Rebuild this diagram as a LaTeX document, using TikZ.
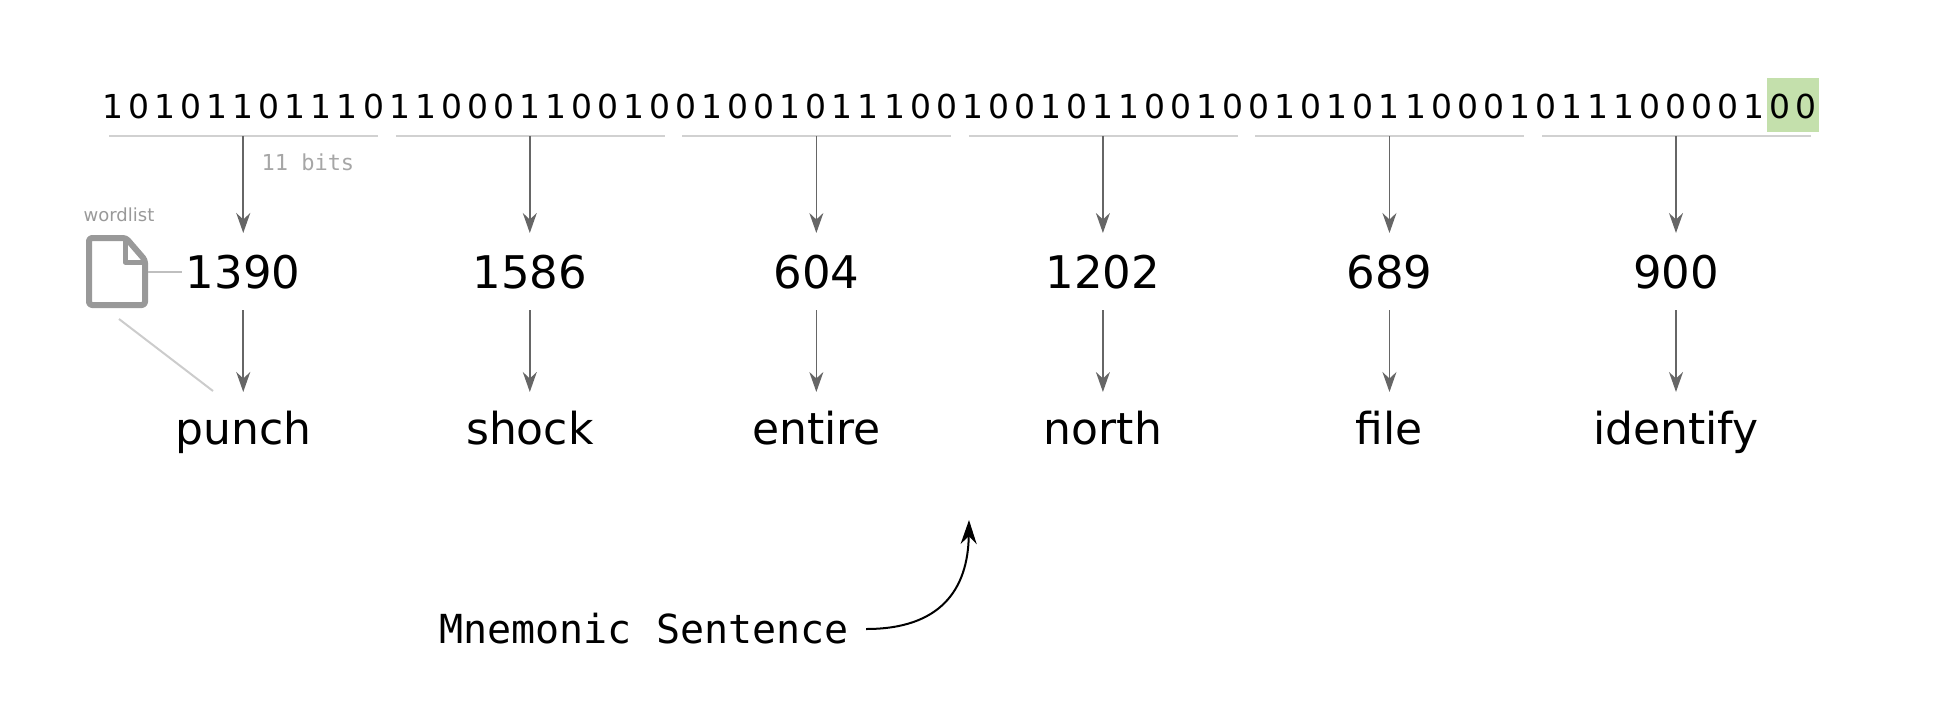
\documentclass[tikz,border=0pt]{standalone}
\usepackage{fontspec}
\setmainfont{DejaVu Sans}
\newfontfamily\monofont{DejaVu Sans Mono}
\usetikzlibrary{arrows.meta,positioning}
\definecolor{hilite}{HTML}{C4E0AC}
\tikzset{
  bit/.style={font=\fontsize{33}{33}\selectfont, inner sep=0pt, anchor=center},
  num/.style={font=\fontsize{45}{45}\selectfont, inner sep=4pt, anchor=base},
  word/.style={font=\fontsize{44}{44}\selectfont, inner sep=4pt, anchor=base},
  flow/.style={draw=black!60, line width=1.6pt, -{Stealth[length=20pt,width=14pt]}},
  brace/.style={draw=black!18, line width=2.5pt},
}
\begin{document}
\begin{tikzpicture}[x=1pt,y=-1pt]
  \useasboundingbox (0,0) rectangle (1960,726);
  %%%%% BITS %%%%%
  \fill[hilite] (1767,78) rectangle (1819,132);
  \foreach \b [count=\i] in {1,0,1,0,1,1,0,1,1,1,0, 1,1,0,0,0,1,1,0,0,1,0,
    0,1,0,0,1,0,1,1,1,0,0, 1,0,0,1,0,1,1,0,0,1,0, 0,1,0,1,0,1,1,0,0,0,1,
    0,1,1,1,0,0,0,0,1,0,0}
    \node[bit] (b\i) at ({113+(\i-1)*26.05},106) {\b};
  %%%%% WORDS %%%%%
  \foreach \n/\w [count=\k from 0] in {1390/punch,1586/shock,604/entire,1202/north,689/file,900/identify}{
    \pgfmathsetmacro{\cx}{113+(11*\k+5)*26.05}
    \draw[brace] ({\cx-134},136) -- ({\cx+135},136);
    \coordinate (u\k) at (\cx,136);
    \node[num] (n\k) at (\cx,288) {\n};
    \node[word] (w\k) at (\cx,444) {\w};
    \draw[flow] (u\k) -- (\cx,233);
    \draw[flow] (\cx,310) -- (\cx,392);
  }
  \node[font=\monofont\fontsize{22}{22}\selectfont, text=black!35, anchor=west] (bits) at (258,162) {11 bits};
  %%%%% WORDLIST %%%%%
  \draw[black!40, line width=6pt, line join=round, rounded corners=3pt]
    (89,238) -- (126,238) -- (145,260) -- (145,305) -- (89,305) -- cycle;
  \draw[black!40, line width=5pt, line join=round] (125,238) -- (125,262) -- (145,262);
  \node[font=\fontsize{18}{18}\selectfont, text=black!40] (wl) at (119,215) {wordlist};
  \coordinate (icon) at (148,272);
  \draw[black!25, line width=2pt] (icon) -- (n0.west |- icon);
  \coordinate (iconfoot) at (119,319);
  \draw[black!20, line width=2pt] (iconfoot) -- (213,391);
  %%%%% SENTENCE %%%%%
  \node[font=\monofont\fontsize{40}{40}\selectfont] (ms) at (644,629) {Mnemonic Sentence};
  \coordinate (tgt) at (969,520);
  \draw[line width=2pt, -{Stealth[length=24pt,width=16pt]}] (ms.east) ++(14,0) .. controls (940,629) and (968,590) .. (tgt);
\end{tikzpicture}
\end{document}
